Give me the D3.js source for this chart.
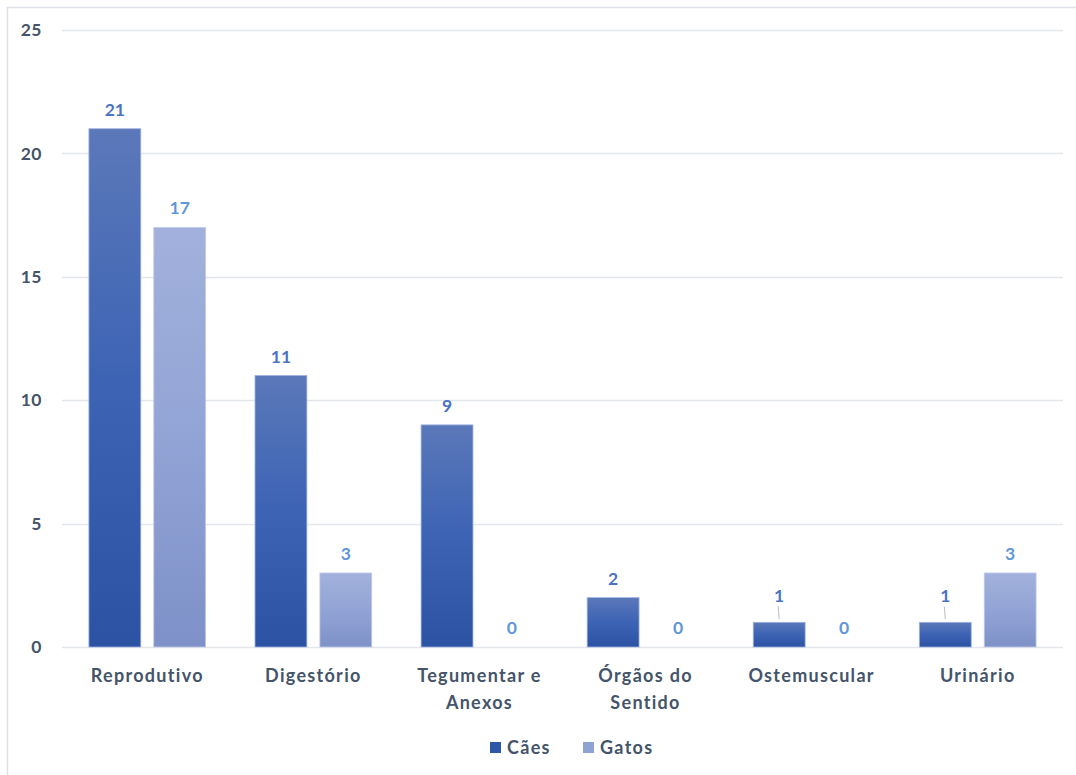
<!DOCTYPE html>
<html>
<head>
<meta charset="utf-8">
<script src="https://cdn.jsdelivr.net/npm/d3@7"></script>
<style>
  html, body { margin: 0; padding: 0; background: #fff; overflow: hidden; }
  svg { display: block; font-family: Lato, "Open Sans", sans-serif; }
</style>
</head>
<body>
<div id="chart"></div>
<script>
// data
const categories = ["Reprodutivo", "Digestório", "Tegumentar e Anexos", "Órgãos do Sentido", "Ostemuscular", "Urinário"];
const catLines = [["Reprodutivo"], ["Digestório"], ["Tegumentar e", "Anexos"], ["Órgãos do", "Sentido"], ["Ostemuscular"], ["Urinário"]];
const series = ["Cães", "Gatos"];
const caes = [21, 11, 9, 2, 1, 1];
const gatos = [17, 3, 0, 0, 0, 3];
const yTicks = [0, 5, 10, 15, 20, 25];

const width = 1076, height = 775;
const svg = d3.select("#chart").append("svg")
  .attr("width", width).attr("height", height);

// gradients, Excel-ish
const defs = svg.append("defs");
const grads = [
  { id: "gC", top: "#5b78b9", mid: "#3c63b4", bot: "#2c53a3" },
  { id: "gG", top: "#a2b1dc", mid: "#92a4d6", bot: "#7e91c8" }
];
grads.forEach(g => {
  const lg = defs.append("linearGradient").attr("id", g.id)
    .attr("x1", 0).attr("y1", 0).attr("x2", 0).attr("y2", 1);
  lg.append("stop").attr("offset", "0%").attr("stop-color", g.top);
  lg.append("stop").attr("offset", "50%").attr("stop-color", g.mid);
  lg.append("stop").attr("offset", "100%").attr("stop-color", g.bot);
});

// chart frame (only left and top edges are visible in the crop)
svg.append("path")
  .attr("d", `M7.5,${height} V7.5 H${width}`)
  .attr("fill", "none").attr("stroke", "#dde1e7").attr("stroke-width", 1.5);

const plot = { left: 62, right: 1063, top: 30, bottom: 647 };

const y = d3.scaleLinear().domain([0, 25]).range([plot.bottom, plot.top]);
const x0 = d3.scaleBand().domain(categories).range([plot.left, plot.right])
  .paddingInner(0.297).paddingOuter(0.162);
const x1 = d3.scaleBand().domain(series).range([0, x0.bandwidth()]).paddingInner(0.2);

// gridlines
svg.append("g").selectAll("line").data(yTicks).join("line")
  .attr("x1", plot.left).attr("x2", plot.right)
  .attr("y1", d => Math.round(y(d)) + 0.5).attr("y2", d => Math.round(y(d)) + 0.5)
  .attr("stroke", "#e3e6ea").attr("stroke-width", 1.5);

// y axis labels
svg.append("g").selectAll("text").data(yTicks).join("text")
  .attr("x", 42).attr("y", d => y(d))
  .attr("dy", "0.35em").attr("text-anchor", "end")
  .attr("font-size", 17.5).attr("font-weight", 700).attr("fill", "#44546a")
  .attr("letter-spacing", 0.5)
  .text(d => d);

// bars
const seriesData = [
  { name: "Cães", vals: caes, fill: "url(#gC)", stroke: "#9fb3e0", label: "#4a73c3", legend: "#2f57a8" },
  { name: "Gatos", vals: gatos, fill: "url(#gG)", stroke: "#c2cdea", label: "#5f97d8", legend: "#8fa2d4" }
];

seriesData.forEach(s => {
  const gs = svg.append("g");
  gs.selectAll("rect").data(categories).join("rect")
    .attr("x", d => x0(d) + x1(s.name))
    .attr("width", x1.bandwidth())
    .attr("y", (d, i) => y(s.vals[i]))
    .attr("height", (d, i) => y(0) - y(s.vals[i]))
    .attr("fill", s.fill)
    .attr("stroke", (d, i) => s.vals[i] > 0 ? s.stroke : "none")
    .attr("stroke-width", 0.8);

  gs.selectAll("text").data(categories).join("text")
    .attr("x", d => x0(d) + x1(s.name) + x1.bandwidth() / 2)
    .attr("y", (d, i) => s.vals[i] <= 1 && s.name === "Cães" ? y(s.vals[i]) - 20 : y(s.vals[i]) - 13)
    .attr("text-anchor", "middle")
    .attr("font-size", 17.5).attr("font-weight", 700).attr("fill", s.label)
    .text((d, i) => s.vals[i]);

  // leader lines for the small labels
  gs.selectAll("line").data(categories.filter((d, i) => s.vals[i] === 1 && s.name === "Cães")).join("line")
    .attr("x1", d => x0(d) + x1(s.name) + x1.bandwidth() / 2 - 1)
    .attr("x2", d => x0(d) + x1(s.name) + x1.bandwidth() / 2)
    .attr("y1", y(1) - 16).attr("y2", y(1) - 3)
    .attr("stroke", "#bfbfbf").attr("stroke-width", 1);
});

// category labels
const cl = svg.append("g").selectAll("text").data(categories).join("text")
  .attr("x", d => x0(d) + x0.bandwidth() / 2)
  .attr("y", 682)
  .attr("text-anchor", "middle")
  .attr("font-size", 18).attr("font-weight", 700).attr("fill", "#44546a")
  .attr("letter-spacing", 1.3);
cl.each(function (d, i) {
  d3.select(this).selectAll("tspan").data(catLines[i]).join("tspan")
    .attr("x", x0(d) + x0.bandwidth() / 2)
    .attr("dy", (t, j) => j === 0 ? 0 : 27)
    .text(t => t);
});

// legend
const legend = svg.append("g");
const legendX = [490, 583];
seriesData.forEach((s, i) => {
  legend.append("rect")
    .attr("x", legendX[i]).attr("y", 742)
    .attr("width", 11).attr("height", 11)
    .attr("fill", s.legend);
  legend.append("text")
    .attr("x", legendX[i] + 17).attr("y", 748)
    .attr("dy", "0.35em")
    .attr("font-size", 18).attr("font-weight", 700).attr("fill", "#44546a")
    .attr("letter-spacing", 1.3)
    .text(s.name);
});
</script>
</body>
</html>
